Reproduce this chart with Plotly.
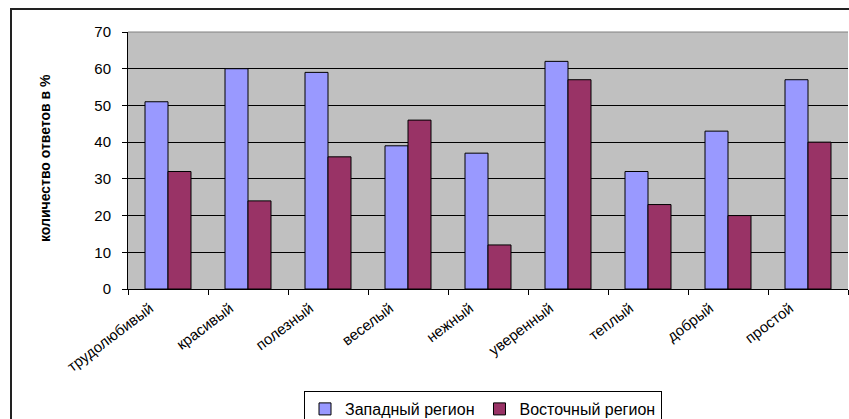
import plotly.graph_objects as go

categories = ["трудолюбивый", "красивый", "полезный", "веселый", "нежный",
              "уверенный", "теплый", "добрый", "простой"]
west = [51, 60, 59, 39, 37, 62, 32, 43, 57]
east = [32, 24, 36, 46, 12, 57, 23, 20, 40]
series_names = ["Западный регион", "Восточный регион"]
y_ticks = [0, 10, 20, 30, 40, 50, 60, 70]

W, H = 849, 419
L, R, T, B = 128, 1, 32, 130
pw = W - L - R
ph = H - T - B

def px_x(x):
    return (x - L) / pw

def px_y(y):
    return (H - B - y) / ph

font = "Liberation Sans, Arial, sans-serif"

fig = go.Figure()
fig.add_trace(go.Bar(x=categories, y=west, name=series_names[0],
                     marker=dict(color="#9999FF", line=dict(color="black", width=1))))
fig.add_trace(go.Bar(x=categories, y=east, name=series_names[1],
                     marker=dict(color="#993366", line=dict(color="black", width=1))))

fig.update_layout(
    width=W, height=H,
    margin=dict(l=L, r=R, t=T, b=B, autoexpand=False),
    paper_bgcolor="white",
    plot_bgcolor="#C0C0C0",
    barmode="group",
    bargap=0.425,
    bargroupgap=0,
    font=dict(family=font, color="black"),
    showlegend=True,
    legend=dict(orientation="h", x=px_x(483), y=px_y(391), xanchor="center", yanchor="top",
                bgcolor="white", bordercolor="black", borderwidth=1,
                font=dict(size=16, family=font), itemwidth=30, tracegroupgap=0,
                traceorder="normal"),
    xaxis=dict(showgrid=False, showline=True, linecolor="black", linewidth=1,
               ticks="outside", ticklen=5, tickcolor="black", tickangle=-37,
               ticklabelshift=-18, ticklabelstandoff=4,
               tickfont=dict(size=15, family=font), tickson="boundaries"),
    yaxis=dict(range=[0, 70], tickvals=y_ticks, showgrid=True, gridcolor="black",
               gridwidth=1, showline=True, linecolor="black", linewidth=1,
               ticks="outside", ticklen=5, tickcolor="black", ticklabelstandoff=8,
               tickfont=dict(size=15, family=font), zeroline=False),
    annotations=[dict(text="<b>количество ответов в %</b>", x=px_x(45), y=px_y(158),
                      xref="paper", yref="paper", showarrow=False, textangle=-90,
                      font=dict(size=14, family=font), xanchor="center", yanchor="middle")],
    shapes=[
        dict(type="line", xref="paper", yref="paper", x0=0, x1=1, y0=1, y1=1,
             line=dict(color="#808080", width=1)),
        dict(type="rect", xref="paper", yref="paper", x0=px_x(11), x1=2,
             y0=-2, y1=px_y(9), line=dict(color="#222222", width=2)),
    ],
)

fig.write_html("out.html", config={"displayModeBar": False},
               post_script="document.body.style.margin='0';document.body.style.overflow='hidden';")
